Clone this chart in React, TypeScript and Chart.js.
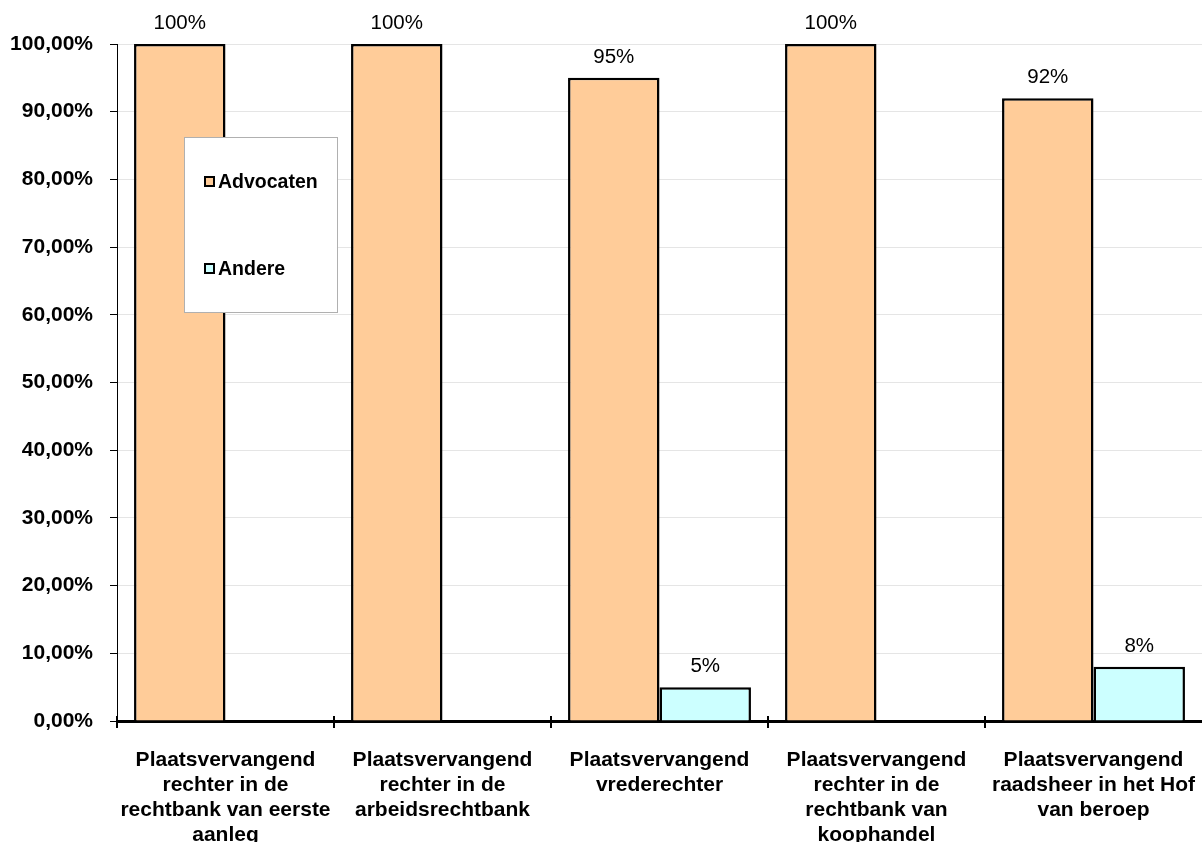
import React, { useEffect, useRef } from "react";
import { Chart, registerables } from "chart.js";

Chart.register(...registerables);

const categories: string[][] = [
  ["Plaatsvervangend", "rechter in de", "rechtbank van eerste", "aanleg"],
  ["Plaatsvervangend", "rechter in de", "arbeidsrechtbank"],
  ["Plaatsvervangend", "vrederechter"],
  ["Plaatsvervangend", "rechter in de", "rechtbank van", "koophandel"],
  ["Plaatsvervangend", "raadsheer in het Hof", "van beroep"],
];
const advocaten: number[] = [100, 100, 95, 100, 92];
const andere: number[] = [0, 0, 5, 0, 8];
const seriesNames: string[] = ["Advocaten", "Andere"];
const seriesColors: string[] = ["#FFCC99", "#CCFFFF"];

const FONT = "'Liberation Sans', Arial, sans-serif";

// Value labels above each non-zero bar
const valueLabels = {
  id: "valueLabels",
  afterDatasetsDraw(chart: any) {
    const ctx = chart.ctx;
    ctx.save();
    ctx.font = `20.5px ${FONT}`;
    ctx.fillStyle = "#000";
    ctx.textAlign = "center";
    ctx.textBaseline = "alphabetic";
    chart.data.datasets.forEach((ds: any, di: number) => {
      const meta = chart.getDatasetMeta(di);
      meta.data.forEach((bar: any, i: number) => {
        const v = ds.data[i];
        if (!v) return;
        ctx.fillText(`${v}%`, bar.x, bar.y - 15);
      });
    });
    ctx.restore();
  },
};

// Category labels and separator ticks crossing the x axis
const categoryAxis = {
  id: "categoryAxis",
  afterDraw(chart: any) {
    const { ctx, chartArea } = chart;
    const xScale = chart.scales.x;
    const n = chart.data.labels.length;
    const w = (chartArea.right - chartArea.left) / n;
    ctx.save();
    ctx.strokeStyle = "#000";
    ctx.lineWidth = 2;
    for (let i = 0; i < n; i++) {
      const x = Math.round(chartArea.left + i * w);
      ctx.beginPath();
      ctx.moveTo(x, chartArea.bottom - 5);
      ctx.lineTo(x, chartArea.bottom + 7);
      ctx.stroke();
    }
    ctx.font = `bold 21px ${FONT}`;
    ctx.fillStyle = "#000";
    ctx.textAlign = "center";
    ctx.textBaseline = "alphabetic";
    chart.data.labels.forEach((lines: string[], i: number) => {
      const cx = xScale.getPixelForTick(i);
      lines.forEach((line, k) => {
        ctx.fillText(line, cx, chartArea.bottom + 45 + k * 25);
      });
    });
    ctx.restore();
  },
};

// Boxed legend laid over the plot
const boxLegend = {
  id: "boxLegend",
  afterDraw(chart: any) {
    const ctx = chart.ctx;
    const bx = 184.5, by = 137.5, bw = 153, bh = 175;
    ctx.save();
    ctx.fillStyle = "#fff";
    ctx.fillRect(bx, by, bw, bh);
    ctx.strokeStyle = "#b0b0b0";
    ctx.lineWidth = 1;
    ctx.strokeRect(bx, by, bw, bh);
    const rows = [182, 269];
    ctx.font = `bold 19.5px ${FONT}`;
    ctx.textBaseline = "middle";
    ctx.textAlign = "left";
    seriesNames.forEach((name, i) => {
      const cy = rows[i];
      ctx.fillStyle = seriesColors[i];
      ctx.fillRect(205, cy - 5, 9, 9);
      ctx.strokeStyle = "#000";
      ctx.lineWidth = 2;
      ctx.strokeRect(205, cy - 5, 9, 9);
      ctx.fillStyle = "#000";
      ctx.fillText(name, 218, cy + 1);
    });
    ctx.restore();
  },
};

export default function App() {
  const ref = useRef<HTMLCanvasElement | null>(null);

  useEffect(() => {
    document.body.style.margin = "0";
    if (!ref.current) return;
    const chart = new Chart(ref.current, {
      type: "bar",
      data: {
        labels: categories,
        datasets: [
          {
            label: seriesNames[0],
            data: advocaten,
            backgroundColor: seriesColors[0],
            borderColor: "#000",
            borderWidth: 2.5,
            borderSkipped: "bottom",
            categoryPercentage: 0.843,
            barPercentage: 1,
          },
          {
            label: seriesNames[1],
            data: andere,
            backgroundColor: seriesColors[1],
            borderColor: "#000",
            borderWidth: 2.5,
            borderSkipped: "bottom",
            categoryPercentage: 0.843,
            barPercentage: 1,
          },
        ],
      },
      options: {
        animation: false,
        responsive: false,
        maintainAspectRatio: false,
        layout: { padding: { top: 44, right: 0, left: 0, bottom: 0 } },
        plugins: {
          legend: { display: false },
          tooltip: { enabled: false },
        },
        scales: {
          x: {
            grid: { display: false },
            border: { display: true, color: "#000", width: 3 },
            ticks: { display: false },
            afterFit(scale: any) {
              scale.height = 121;
            },
          },
          y: {
            min: 0,
            max: 100,
            ticks: {
              stepSize: 10,
              color: "#000",
              font: { family: FONT, size: 21, weight: "bold" },
              padding: 17,
              callback: (v: any) => `${Number(v).toFixed(2).replace(".", ",")}%`,
            },
            grid: {
              color: (c: any) => (c.tick && c.tick.value === 0 ? "rgba(0,0,0,0)" : "#e5e5e5"),
              tickColor: "#000",
              tickLength: 7,
              lineWidth: 1,
            },
            border: { display: true, color: "#000", width: 1 },
            afterFit(scale: any) {
              scale.width = 117;
            },
          },
        },
      },
      plugins: [valueLabels, categoryAxis, boxLegend],
    });
    return () => chart.destroy();
  }, []);

  return (
    <div style={{ width: 1202, height: 842, background: "#fff" }}>
      <canvas ref={ref} width={1202} height={842} style={{ display: "block" }} />
    </div>
  );
}
